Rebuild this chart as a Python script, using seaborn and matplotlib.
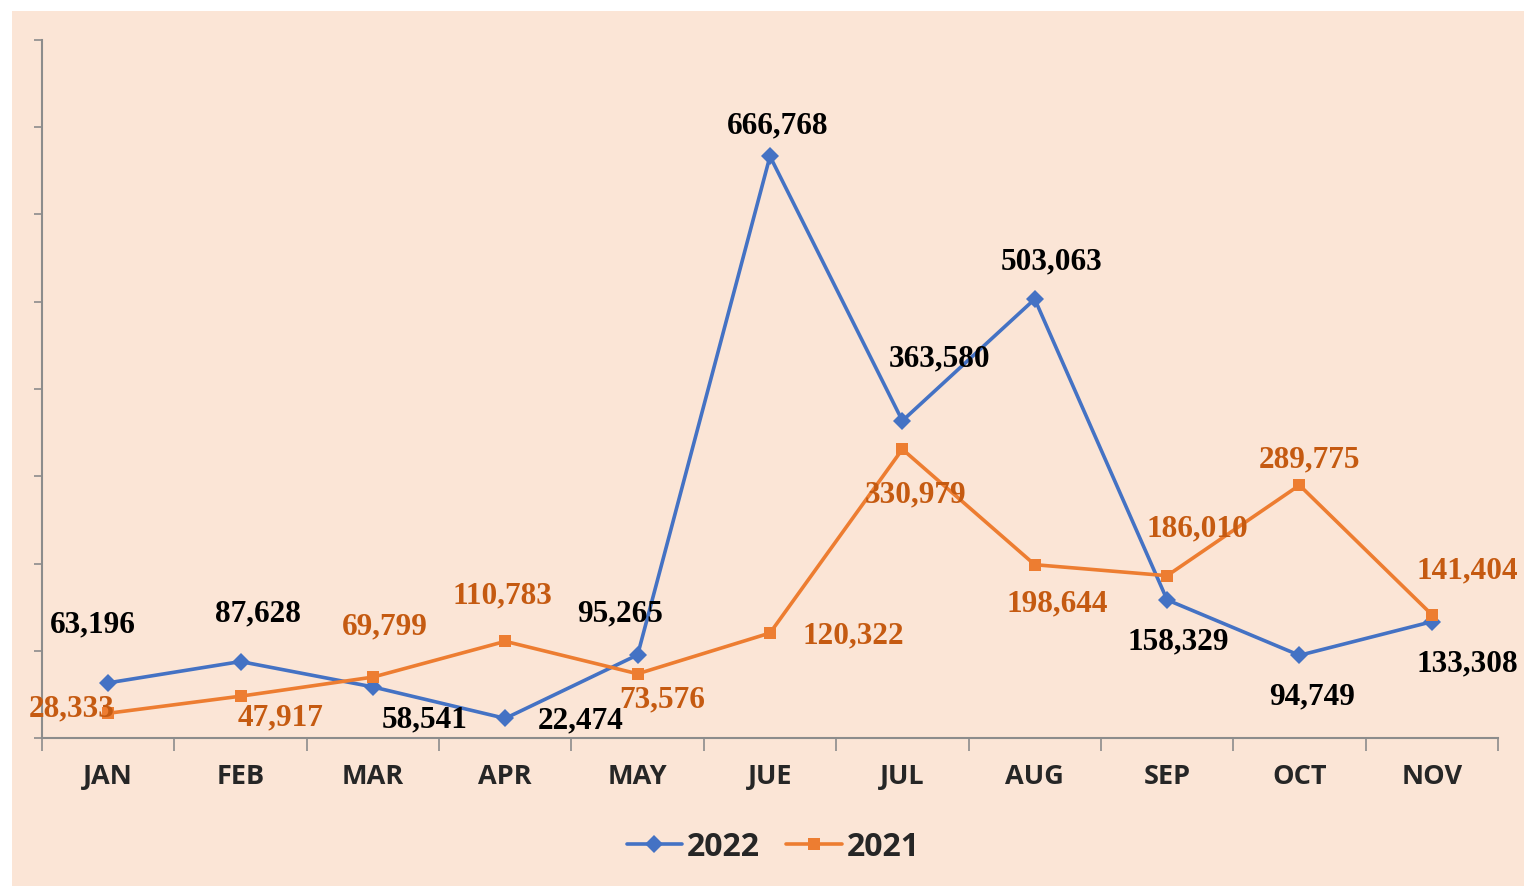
import matplotlib
matplotlib.use("Agg")
import matplotlib.pyplot as plt
import seaborn as sns
import pandas as pd
import numpy as np
from matplotlib.patches import Rectangle
from matplotlib.ticker import FixedLocator

months = ["JAN", "FEB", "MAR", "APR", "MAY", "JUE", "JUL", "AUG", "SEP", "OCT", "NOV"]
values_2022 = [63196, 87628, 58541, 22474, 95265, 666768, 363580, 503063, 158329, 94749, 133308]
values_2021 = [28333, 47917, 69799, 110783, 73576, 120322, 330979, 198644, 186010, 289775, 141404]

# label offsets in pixels (dx, dy) relative to the point
off_2022 = [(-15, 58), (17, 48), (52, -33), (75, -3), (-18, 41), (8, 30), (37, 62), (17, 37), (11, -42), (13, -42), (35, -42)]
off_2021 = [(-36, 4), (40, -22), (12, 50), (-3, 45), (25, -26), (83, -3), (13, -46), (23, -39), (30, 47), (10, 25), (35, 44)]

BG = "#FBE5D6"
BLUE = "#4472C4"
ORANGE = "#ED7D31"
ORANGE_TXT = "#C55A11"
AXIS = "#8C8C8C"
SANS = ["Open Sans", "DejaVu Sans"]

sns.set_style("white")
plt.rcParams["font.family"] = SANS

fig = plt.figure(figsize=(15.24, 8.86), dpi=100)
fig.patch.set_facecolor("white")
fig.patches.append(Rectangle((12 / 1524, 0), 1 - 12 / 1524, 1 - 11 / 886,
                             transform=fig.transFigure, facecolor=BG, edgecolor="none", zorder=-10))

ax = fig.add_axes([42 / 1524, 1 - 738 / 886, (1498 - 42) / 1524, (738 - 40) / 886])
ax.set_facecolor("none")

df = pd.DataFrame({
    "x": list(range(len(months))) * 2,
    "value": values_2022 + values_2021,
    "year": ["2022"] * len(months) + ["2021"] * len(months),
})

sns.lineplot(data=df, x="x", y="value", hue="year", style="year",
             palette={"2022": BLUE, "2021": ORANGE},
             markers={"2022": "D", "2021": "s"}, dashes=False,
             markersize=9, linewidth=2.6, markeredgewidth=0,
             sort=False, ax=ax)

ax.set_xlim(-0.5, len(months) - 0.5)
ax.set_ylim(0, 800000)

for i, (v, (dx, dy)) in enumerate(zip(values_2022, off_2022)):
    ax.annotate(f"{v:,}", (i, v), xytext=(dx, dy), textcoords="offset pixels",
                ha="center", va="center", fontsize=22.5, fontweight="bold",
                family="Liberation Serif", color="black", zorder=5)
for i, (v, (dx, dy)) in enumerate(zip(values_2021, off_2021)):
    ax.annotate(f"{v:,}", (i, v), xytext=(dx, dy), textcoords="offset pixels",
                ha="center", va="center", fontsize=22.5, fontweight="bold",
                family="Liberation Serif", color=ORANGE_TXT, zorder=5)

# axes styling
for s in ["top", "right"]:
    ax.spines[s].set_visible(False)
for s in ["left", "bottom"]:
    ax.spines[s].set_color(AXIS)
    ax.spines[s].set_linewidth(1.5)

ax.set_yticks(np.arange(0, 800001, 100000))
ax.set_yticklabels([])
ax.tick_params(axis="y", which="major", direction="out", length=6, width=1.2, color=AXIS, left=True)

ax.set_xticks(range(len(months)))
ax.set_xticklabels(months, fontsize=19.5, fontweight="bold", family=SANS)
ax.tick_params(axis="x", which="major", length=0, pad=19)
ax.xaxis.set_minor_locator(FixedLocator(np.arange(-0.5, len(months), 1.0)))
ax.tick_params(axis="x", which="minor", direction="out", length=9, width=1.2, color=AXIS, bottom=True)
ax.set_xlabel("")
ax.set_ylabel("")

handles, labels = ax.get_legend_handles_labels()
leg = ax.legend(handles, labels, loc="center", bbox_to_anchor=(773 / 1524, 1 - 847 / 886),
                bbox_transform=fig.transFigure, ncol=2, frameon=False,
                prop={"family": SANS, "weight": "bold", "size": 23},
                handlelength=1.75, handletextpad=0.15, columnspacing=0.8)

fig.savefig("out.png", dpi=100, facecolor="white")
